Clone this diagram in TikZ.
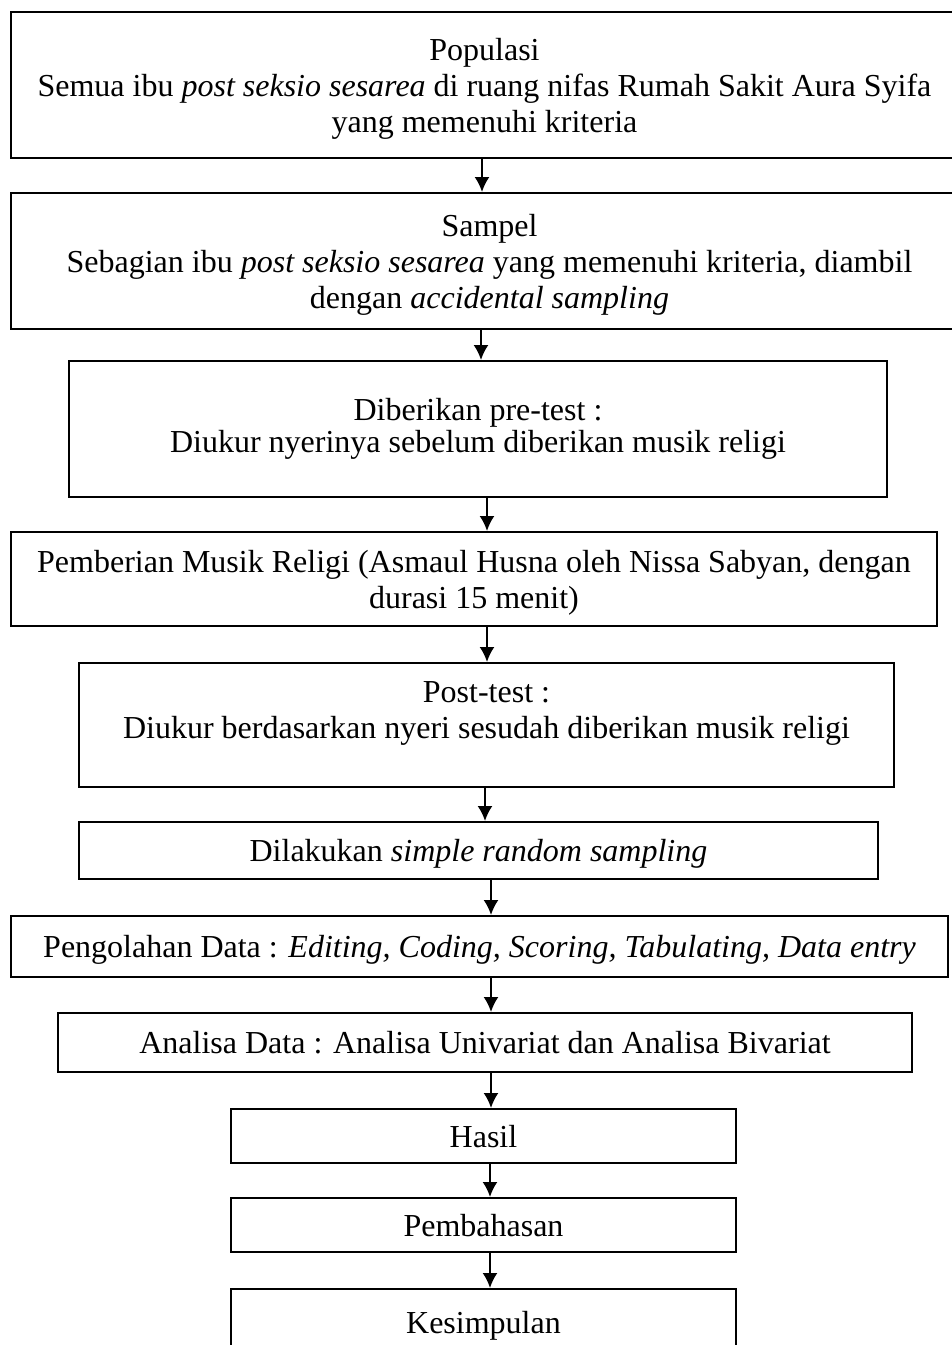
\documentclass[tikz,border=0pt]{standalone}
\usepackage{fontspec}
\setmainfont{Liberation Serif}
\usetikzlibrary{arrows.meta}

\begin{document}
\begin{tikzpicture}[x=0.5pt,y=-0.5pt,>={Latex[length=7.5pt,width=7.5pt]},line width=1pt,
    box/.style={draw,inner sep=0pt,align=center,text depth=0pt,font=\fontsize{16}{18}\selectfont}]
        \useasboundingbox (0,0) rectangle (952,1345);
        \clip (0,0) rectangle (952,1345);
        \node[box,minimum width=473.5pt,minimum height=73pt] (populasi) at (484.5,85) {Populasi\\Semua ibu \textit{post seksio sesarea} di ruang nifas Rumah Sakit Aura Syifa\\yang memenuhi kriteria};
        \node[box,minimum width=478.5pt,minimum height=68pt] (sampel) at (489.5,261) {Sampel\\Sebagian ibu \textit{post seksio sesarea} yang memenuhi kriteria, diambil\\dengan \textit{accidental sampling}};
        \node[box,minimum width=409pt,minimum height=68pt] (pretest) at (478,429) {};
        \node[box,draw=none,font=\fontsize{16}{16}\selectfont] (pretestteks) at (478,425) {Diberikan pre-test :\\Diukur nyerinya sebelum diberikan musik religi};
        \node[box,minimum width=463pt,minimum height=47pt] (musik) at (474,579) {Pemberian Musik Religi (Asmaul Husna oleh Nissa Sabyan, dengan\\durasi 15 menit)};
        \node[box,minimum width=407.5pt,minimum height=62pt] (posttest) at (486.5,725) {};
        \node[box,draw=none] (posttestteks) at (486.5,710) {Post-test :\\Diukur berdasarkan nyeri sesudah diberikan musik religi};
        \node[box,minimum width=399.5pt,minimum height=28.5pt] (acak) at (478.5,850.5) {Dilakukan \textit{simple random sampling}};
        \node[box,minimum width=468.5pt,minimum height=30.5pt] (olah) at (479.5,946.5) {Pengolahan Data : \textit{Editing, Coding, Scoring, Tabulating, Data entry}};
        \node[box,minimum width=427pt,minimum height=29.5pt] (analisa) at (485,1042.5) {Analisa Data : Analisa Univariat dan Analisa Bivariat};
        \node[box,minimum width=252.5pt,minimum height=27pt] (hasil) at (483.5,1136) {Hasil};
        \node[box,minimum width=252.5pt,minimum height=27pt] (bahas) at (483.5,1225) {Pembahasan};
        \node[box,minimum width=252.5pt,minimum height=33.5pt] (simpul) at (483.5,1322.5) {Kesimpulan};
        \draw[->] (populasi.south -| 482,0) -- (sampel.north -| 482,0);
        \draw[->] (sampel.south -| 481,0) -- (pretest.north -| 481,0);
        \draw[->] (pretest.south -| 487,0) -- (musik.north -| 487,0);
        \draw[->] (musik.south -| 487,0) -- (posttest.north -| 487,0);
        \draw[->] (posttest.south -| 485,0) -- (acak.north -| 485,0);
        \draw[->] (acak.south -| 491,0) -- (olah.north -| 491,0);
        \draw[->] (olah.south -| 491,0) -- (analisa.north -| 491,0);
        \draw[->] (analisa.south -| 491,0) -- (hasil.north -| 491,0);
        \draw[->] (hasil.south -| 490,0) -- (bahas.north -| 490,0);
        \draw[->] (bahas.south -| 490,0) -- (simpul.north -| 490,0);
    \end{tikzpicture}
\end{document}
